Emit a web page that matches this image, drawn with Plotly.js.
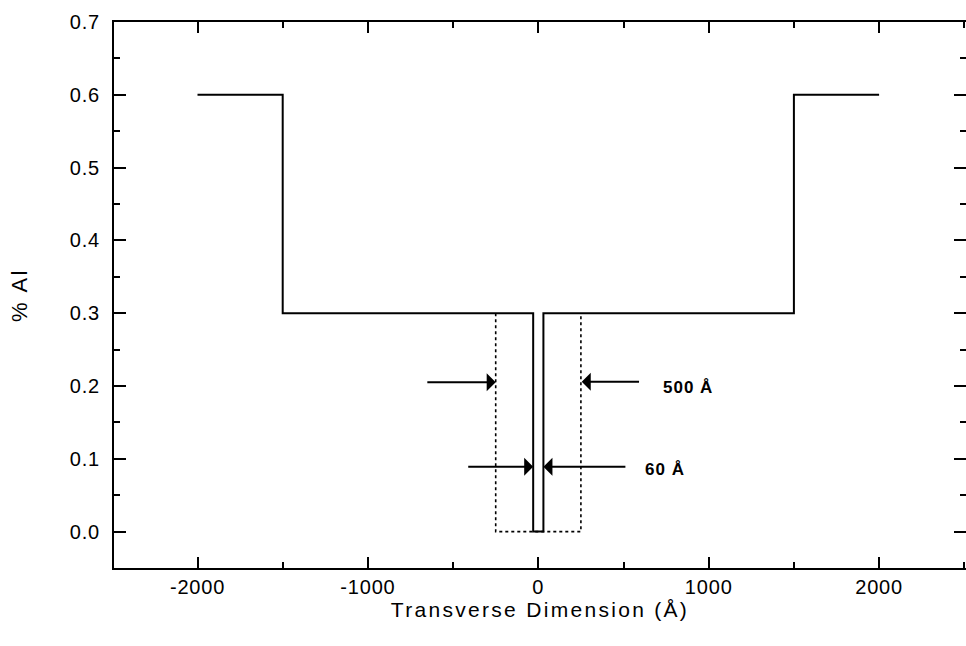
<!DOCTYPE html>
<html>
<head>
<meta charset="utf-8">
<script src="https://cdn.plot.ly/plotly-3.0.1.min.js"></script>
<style>
  html, body { margin: 0; padding: 0; background: #fff; }
  #chart { width: 966px; height: 646px; }
  .xtitle { letter-spacing: 2.3px; }
  .ytitle { letter-spacing: 2.5px; }
  .xtick text, .ytick text { letter-spacing: 0.8px; }
  .annotation-text { letter-spacing: 1px; }
</style>
</head>
<body>
<div id="chart"></div>
<script>
// Composition profile (solid line)
const profileX = [-2000, -1500, -1500, -30, -30, 30, 30, 1500, 1500, 2000];
const profileY = [0.6, 0.6, 0.3, 0.3, 0.0, 0.0, 0.3, 0.3, 0.6, 0.6];

// 500 Å well (dotted line)
const wellX = [-250, -250, 250, 250];
const wellY = [0.3, 0.0, 0.0, 0.3];

// Dimension arrows
const arrowTailX = [-660, 600, -420, 520];
const arrowHeadX = [-250, 255, -30, 30];
const arrowY = [0.205, 0.206, 0.089, 0.089];

// Dimension labels
const labelText = ['500 Å', '60 Å'];
const labelX = [880, 745];
const labelY = [0.198, 0.085];

const xTickVals = [-2000, -1000, 0, 1000, 2000];
const xTickText = ['-2000', '-1000', '0', '1000', '2000'];
const yTickVals = [0.0, 0.1, 0.2, 0.3, 0.4, 0.5, 0.6, 0.7];
const yTickText = ['0.0', '0.1', '0.2', '0.3', '0.4', '0.5', '0.6', '0.7'];

const font = 'Liberation Sans, Arial, Helvetica, sans-serif';

const traces = [
  {
    x: profileX, y: profileY, type: 'scatter', mode: 'lines',
    line: { color: '#000', width: 2 }, hoverinfo: 'skip', showlegend: false
  },
  {
    x: wellX, y: wellY, type: 'scatter', mode: 'lines',
    line: { color: '#000', width: 1.6, dash: 'dot' }, hoverinfo: 'skip', showlegend: false
  }
];

const annotations = [];
for (let i = 0; i < arrowHeadX.length; i++) {
  annotations.push({
    x: arrowHeadX[i], y: arrowY[i], xref: 'x', yref: 'y',
    ax: arrowTailX[i], ay: arrowY[i], axref: 'x', ayref: 'y',
    text: '', showarrow: true, arrowhead: 1, arrowsize: 1.5, arrowwidth: 2,
    arrowcolor: '#000'
  });
}
for (let i = 0; i < labelText.length; i++) {
  annotations.push({
    x: labelX[i], y: labelY[i], xref: 'x', yref: 'y',
    text: '<b>' + labelText[i] + '</b>', showarrow: false,
    font: { family: font, size: 17, color: '#000' }
  });
}

const layout = {
  width: 966, height: 646,
  margin: { l: 114, r: 0, t: 22, b: 78 },
  paper_bgcolor: '#fff', plot_bgcolor: '#fff',
  showlegend: false,
  font: { family: font, color: '#000' },
  xaxis: {
    range: [-2490, 2510],
    tickvals: xTickVals, ticktext: xTickText,
    ticks: 'inside', ticklen: 11, tickwidth: 2, tickcolor: '#000',
    minor: { dtick: 500, tick0: 0, ticks: 'inside', ticklen: 6, tickwidth: 2, tickcolor: '#000' },
    showline: true, linecolor: '#000', linewidth: 2, mirror: 'ticks',
    showgrid: false, zeroline: false,
    tickfont: { family: font, size: 20, color: '#000' },
    ticklabelstandoff: 0,
    title: { text: 'Transverse Dimension (Å)', font: { family: font, size: 21, color: '#000' }, standoff: 2 }
  },
  yaxis: {
    range: [-0.05, 0.7],
    tickvals: yTickVals, ticktext: yTickText,
    ticks: 'inside', ticklen: 12, tickwidth: 2, tickcolor: '#000',
    minor: { dtick: 0.05, tick0: 0, ticks: 'inside', ticklen: 6, tickwidth: 2, tickcolor: '#000' },
    showline: true, linecolor: '#000', linewidth: 2, mirror: 'ticks',
    showgrid: false, zeroline: false,
    tickfont: { family: font, size: 20, color: '#000' },
    ticklabelstandoff: 8,
    title: { text: '% Al', font: { family: font, size: 22, color: '#000' }, standoff: 36 }
  },
  annotations: annotations
};

Plotly.newPlot('chart', traces, layout, { displayModeBar: false, staticPlot: true });
</script>
</body>
</html>
